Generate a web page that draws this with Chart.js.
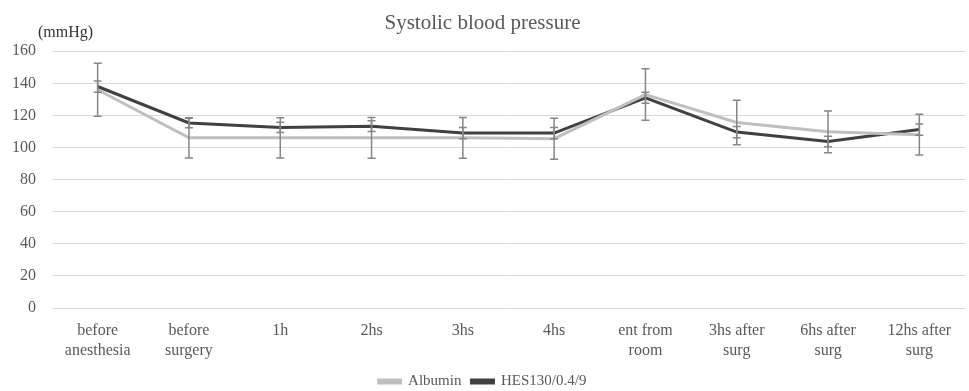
<!DOCTYPE html>
<html>
<head>
<meta charset="utf-8">
<script src="https://cdn.jsdelivr.net/npm/chart.js@4"></script>
<style>
  body { margin: 0; background: #fff; }
  #wrap { width: 969px; height: 391px; }
</style>
</head>
<body>
<div id="wrap"><canvas id="myChart"></canvas></div>
<script>
var ctx = document.getElementById('myChart').getContext('2d');

var labels = [
    ['before', 'anesthesia'], ['before', 'surgery'], '1h', '2hs', '3hs', '4hs',
    ['ent from', 'room'], ['3hs after', 'surg'], ['6hs after', 'surg'], ['12hs after', 'surg']
];
var albumin = [136, 106, 106, 106, 106, 105.5, 133, 115.6, 109.8, 108];
var albuminSd = [16.5, 12.5, 12.5, 12.7, 12.7, 12.8, 16, 13.9, 13, 12.7];
var hes = [138, 115.3, 112.5, 113.3, 109, 109, 131, 109.6, 103.7, 111.2];
var hesSd = [3.5, 3, 3.2, 3.4, 3.5, 3.5, 3.5, 3.5, 3.3, 3.5];
var yTicks = [0, 20, 40, 60, 80, 100, 120, 140, 160];

var serif = '"Liberation Serif", "Times New Roman", serif';
var textColor = '#595959';

// error bars drawn on top of the lines
var errorBars = {
    id: 'errorBars',
    afterDatasetsDraw: function (chart) {
        var c = chart.ctx;
        var y = chart.scales.y;
        var sds = [albuminSd, hesSd];
        c.save();
        c.strokeStyle = '#868686';
        c.lineWidth = 1.5;
        chart.data.datasets.forEach(function (ds, i) {
            var meta = chart.getDatasetMeta(i);
            meta.data.forEach(function (pt, j) {
                var top = y.getPixelForValue(ds.data[j] + sds[i][j]);
                var bot = y.getPixelForValue(ds.data[j] - sds[i][j]);
                c.beginPath();
                c.moveTo(pt.x, top); c.lineTo(pt.x, bot);
                c.moveTo(pt.x - 4, top); c.lineTo(pt.x + 4, top);
                c.moveTo(pt.x - 4, bot); c.lineTo(pt.x + 4, bot);
                c.stroke();
            });
        });
        c.restore();
    }
};

// "(mmHg)" unit label above the y axis
var unitLabel = {
    id: 'unitLabel',
    afterDraw: function (chart) {
        var c = chart.ctx;
        c.save();
        c.fillStyle = '#333333';
        c.font = '16px ' + serif;
        c.textAlign = 'left';
        c.textBaseline = 'middle';
        c.fillText('(mmHg)', 38, chart.chartArea.top - 18);
        c.restore();
    }
};

var data = {
    labels: labels,
    datasets: [{
        label: 'Albumin',
        data: albumin,
        borderColor: '#bfbfbf',
        backgroundColor: '#bfbfbf',
        borderWidth: 3,
        pointRadius: 0,
        tension: 0
    }, {
        label: 'HES130/0.4/9',
        data: hes,
        borderColor: '#404040',
        backgroundColor: '#404040',
        borderWidth: 3,
        pointRadius: 0,
        tension: 0
    }]
};

var myChart = new Chart(ctx, {
    type: 'line',
    data: data,
    plugins: [errorBars, unitLabel],
    options: {
        responsive: true,
        maintainAspectRatio: false,
        animation: false,
        layout: { padding: { left: 0, right: 4, top: 0, bottom: -8 } },
        plugins: {
            title: {
                display: true,
                text: 'Systolic blood pressure',
                color: textColor,
                font: { family: serif, size: 21, weight: 'normal' },
                padding: { top: 11, bottom: 15 }
            },
            legend: {
                position: 'bottom',
                labels: {
                    color: textColor,
                    font: { family: serif, size: 15 },
                    boxWidth: 22,
                    boxHeight: 3,
                    padding: 10
                }
            },
            tooltip: { enabled: false }
        },
        scales: {
            x: {
                offset: true,
                clip: false,
                afterFit: function (scale) { scale.height = 56; },
                grid: { display: false, drawTicks: false },
                border: { display: false },
                ticks: {
                    color: textColor,
                    font: { family: serif, size: 16, lineHeight: 1.3 },
                    maxRotation: 0,
                    autoSkip: false,
                    padding: 12
                }
            },
            y: {
                min: 0,
                max: 160,
                afterFit: function (scale) { scale.width = 52; },
                afterBuildTicks: function (scale) {
                    scale.ticks = yTicks.map(function (v) { return { value: v }; });
                },
                grid: { color: '#d9d9d9', lineWidth: 1, drawTicks: false },
                border: { display: false },
                ticks: {
                    color: textColor,
                    font: { family: serif, size: 16 },
                    padding: 16
                }
            }
        }
    }
});
</script>
</body>
</html>
